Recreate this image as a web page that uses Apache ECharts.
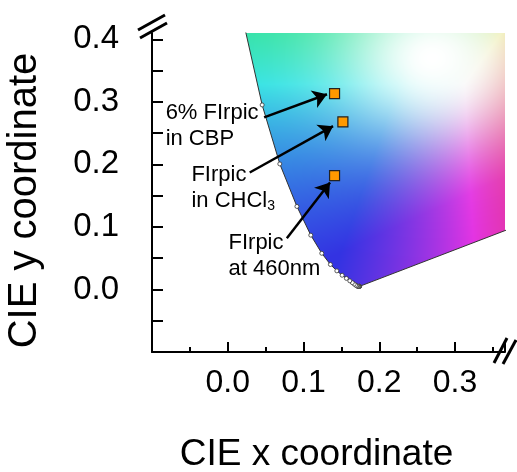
<!DOCTYPE html>
<html>
<head>
<meta charset="utf-8">
<script src="https://cdn.jsdelivr.net/npm/echarts@6/dist/echarts.min.js"></script>
<style>
  html, body { margin: 0; padding: 0; background: #fff; }
  #chart { width: 517px; height: 472px; }
</style>
</head>
<body>
<div id="chart"></div>
<script>
// CIE 1931 spectral locus (2° observer), 5 nm steps; the 700 nm red end comes first
// so that the outline also draws the line of purples.
const locusNm = [700, 380, 385, 390, 395, 400, 405, 410, 415, 420, 425, 430, 435, 440,
  445, 450, 455, 460, 465, 470, 475, 480, 485, 490, 495, 500, 505, 510, 515, 520];
const locusX = [0.7347, 0.1741, 0.1740, 0.1738, 0.1736, 0.1733, 0.1730, 0.1726, 0.1721, 0.1714,
  0.1703, 0.1689, 0.1669, 0.1644, 0.1611, 0.1566, 0.1510, 0.1440, 0.1355, 0.1241,
  0.1096, 0.0913, 0.0687, 0.0454, 0.0235, 0.0082, 0.0039, 0.0139, 0.0389, 0.0743];
const locusY = [0.2653, 0.0050, 0.0050, 0.0049, 0.0049, 0.0048, 0.0048, 0.0048, 0.0048, 0.0051,
  0.0058, 0.0069, 0.0086, 0.0109, 0.0138, 0.0177, 0.0227, 0.0297, 0.0399, 0.0578,
  0.0868, 0.1327, 0.2007, 0.2950, 0.4127, 0.5384, 0.6548, 0.7502, 0.8120, 0.8338];

// Measured emission colour coordinates
const sampleNames = ['6% FIrpic in CBP', 'FIrpic in CHCl3', 'FIrpic at 460nm'];
const sampleX = [0.141, 0.152, 0.141];
const sampleY = [0.313, 0.268, 0.182];

// Callout texts, their anchors (left edge, vertical middle) and arrows
const noteText = [
  '{t|6% FIrpic}\n{t|in CBP}',
  '{t|FIrpic}\n{t|in CHCl}{s|3}',
  '{t|FIrpic}\n{t|at 460nm}'
];
const noteX = [-0.082, -0.048, 0.001];
const noteY = [0.261, 0.163, 0.053];
const arrowFromX = [0.048, 0.029, 0.078];
const arrowFromY = [0.275, 0.187, 0.082];
const arrowToX = [0.131, 0.139, 0.135];
const arrowToY = [0.312, 0.261, 0.171];

// Labelled ticks
const xTickLabels = [0.0, 0.1, 0.2, 0.3];
const yTickLabels = [0.0, 0.1, 0.2, 0.3, 0.4];

const FONT = '"Liberation Sans", Arial, Helvetica, sans-serif';
const GRID = { left: 152, top: 33, right: 12, bottom: 120 };

function tickFormatter(list) {
  return function (v) {
    for (const t of list) {
      if (Math.abs(v - t) < 1e-6) return t.toFixed(1);
    }
    return '';
  };
}

// Approximate display colour of a chromaticity point
function chromaColor(x, y) {
  y = Math.max(y, 0.002);
  const X = x / y, Z = (1 - x - y) / y;
  let r = 3.2406 * X - 1.5372 - 0.4986 * Z;
  let g = -0.9689 * X + 1.8758 + 0.0415 * Z;
  let b = 0.0557 * X - 0.2040 + 1.0570 * Z;
  r = Math.max(r, 0); g = Math.max(g, 0); b = Math.max(b, 0);
  const m = Math.max(r, g, b) || 1;
  r /= m; g /= m; b /= m;
  const dx = x - 0.27, dy = y - 0.37;
  const w = 0.2 + 0.8 * Math.exp(-(dx * dx + dy * dy) / (0.13 * 0.13));
  const k = 0.86;
  return [
    (r * k * (1 - w) + w) * 255,
    (g * k * (1 - w) + w) * 255,
    (b * k * (1 - w) + w) * 255
  ];
}

let fieldCanvas = null;
function buildField(api, rect) {
  const c = document.createElement('canvas');
  c.width = Math.round(rect.width);
  c.height = Math.round(rect.height);
  const ctx = c.getContext('2d');
  const img = ctx.createImageData(c.width, c.height);
  const o = api.coord([0, 0]);
  const u = api.coord([0.1, 0.1]);
  const sx = (u[0] - o[0]) / 0.1, sy = (u[1] - o[1]) / 0.1;
  for (let j = 0; j < c.height; j++) {
    for (let i = 0; i < c.width; i++) {
      const x = (rect.x + i + 0.5 - o[0]) / sx;
      const y = (rect.y + j + 0.5 - o[1]) / sy;
      const col = chromaColor(x, y);
      const p = (j * c.width + i) * 4;
      img.data[p] = col[0];
      img.data[p + 1] = col[1];
      img.data[p + 2] = col[2];
      img.data[p + 3] = 255;
    }
  }
  ctx.putImageData(img, 0, 0);
  return c;
}

const chart = echarts.init(document.getElementById('chart'), null, { renderer: 'canvas' });

const option = {
  animation: false,
  backgroundColor: '#fff',
  grid: { left: GRID.left, top: GRID.top, right: GRID.right, bottom: GRID.bottom, outerBoundsMode: 'none' },
  xAxis: {
    type: 'value', min: -0.1, max: 0.366, interval: 0.1,
    axisLine: { show: true, onZero: false, lineStyle: { color: '#000', width: 2 } },
    axisTick: { show: true, inside: true, length: 10, lineStyle: { color: '#000', width: 2 } },
    minorTick: { show: true, splitNumber: 2, length: 5, lineStyle: { color: '#000', width: 2 } },
    splitLine: { show: false }, minorSplitLine: { show: false },
    axisLabel: { formatter: tickFormatter(xTickLabels), fontSize: 32, color: '#000', margin: 15, fontFamily: FONT, showMinLabel: true, showMaxLabel: false },
    name: 'CIE x coordinate', nameLocation: 'middle', nameGap: 84,
    nameTextStyle: { fontSize: 37, color: '#000', fontFamily: FONT, padding: [0, 24, 0, 0] }
  },
  yAxis: {
    type: 'value', min: -0.1, max: 0.41, interval: 0.05,
    axisLine: { show: true, onZero: false, lineStyle: { color: '#000', width: 2 } },
    axisTick: { show: true, inside: true, length: 11, lineStyle: { color: '#000', width: 2 } },
    splitLine: { show: false },
    axisLabel: { formatter: tickFormatter(yTickLabels), fontSize: 33, color: '#000', margin: 33, fontFamily: FONT, showMaxLabel: false },
    name: 'CIE y coordinate', nameLocation: 'middle', nameGap: 107,
    nameTextStyle: { fontSize: 40, color: '#000', fontFamily: FONT, padding: [0, 16, 0, 0] }
  },
  series: [
    {
      // colour field inside the spectral locus
      type: 'custom', name: 'gamut', silent: true, z: 1,
      data: [[0, 0]],
      renderItem: function (params, api) {
        const rect = params.coordSys;
        if (!fieldCanvas) fieldCanvas = buildField(api, rect);
        const pts = locusX.map((x, i) => api.coord([x, locusY[i]]));
        return {
          type: 'image',
          style: { image: fieldCanvas, x: rect.x, y: rect.y, width: rect.width, height: rect.height },
          clipPath: { type: 'polygon', shape: { points: pts } }
        };
      }
    },
    {
      // spectral locus outline with wavelength marks
      type: 'line', name: 'locus', silent: true, z: 3, clip: true,
      data: locusX.map((x, i) => [x, locusY[i]]),
      symbol: 'circle', symbolSize: 4,
      itemStyle: { color: '#fff', borderColor: '#333', borderWidth: 0.8 },
      lineStyle: { color: '#333', width: 1 }
    },
    {
      type: 'lines', name: 'arrows', coordinateSystem: 'cartesian2d', silent: true, z: 5,
      data: arrowFromX.map((x, i) => ({ coords: [[x, arrowFromY[i]], [arrowToX[i], arrowToY[i]]] })),
      symbol: ['none', 'arrow'], symbolSize: 14,
      lineStyle: { color: '#000', width: 2.5, opacity: 1 }
    },
    {
      type: 'scatter', name: 'samples', z: 6,
      data: sampleX.map((x, i) => ({ name: sampleNames[i], value: [x, sampleY[i]] })),
      symbol: 'rect', symbolSize: 10,
      itemStyle: { color: '#ff9900', borderColor: '#222', borderWidth: 1.2, opacity: 1 }
    },
    {
      type: 'scatter', name: 'notes', silent: true, z: 7,
      data: noteX.map((x, i) => ({ value: [x, noteY[i]], label: { formatter: noteText[i] } })),
      symbolSize: 0,
      itemStyle: { opacity: 1 },
      label: {
        show: true, position: [0, 0], align: 'left', verticalAlign: 'middle', opacity: 1,
        rich: {
          t: { fontSize: 22, lineHeight: 26, color: '#000', fontFamily: FONT },
          s: { fontSize: 14, lineHeight: 26, color: '#000', fontFamily: FONT, verticalAlign: 'bottom' }
        }
      }
    }
  ],
  graphic: [
    // axis break marks
    { type: 'line', z: 100, shape: { x1: GRID.left - 14, y1: GRID.top - 3, x2: GRID.left + 13, y2: GRID.top - 18 }, style: { stroke: '#000', lineWidth: 3 } },
    { type: 'line', z: 100, shape: { x1: GRID.left - 12, y1: GRID.top + 5, x2: GRID.left + 15, y2: GRID.top - 10 }, style: { stroke: '#000', lineWidth: 3 } },
    { type: 'line', z: 100, shape: { x1: 517 - GRID.right - 11, y1: 472 - GRID.bottom + 11, x2: 517 - GRID.right + 2, y2: 472 - GRID.bottom - 14 }, style: { stroke: '#000', lineWidth: 3 } },
    { type: 'line', z: 100, shape: { x1: 517 - GRID.right - 2, y1: 472 - GRID.bottom + 12, x2: 517 - GRID.right + 11, y2: 472 - GRID.bottom - 12 }, style: { stroke: '#000', lineWidth: 3 } }
  ]
};

chart.setOption(option);
</script>
</body>
</html>
